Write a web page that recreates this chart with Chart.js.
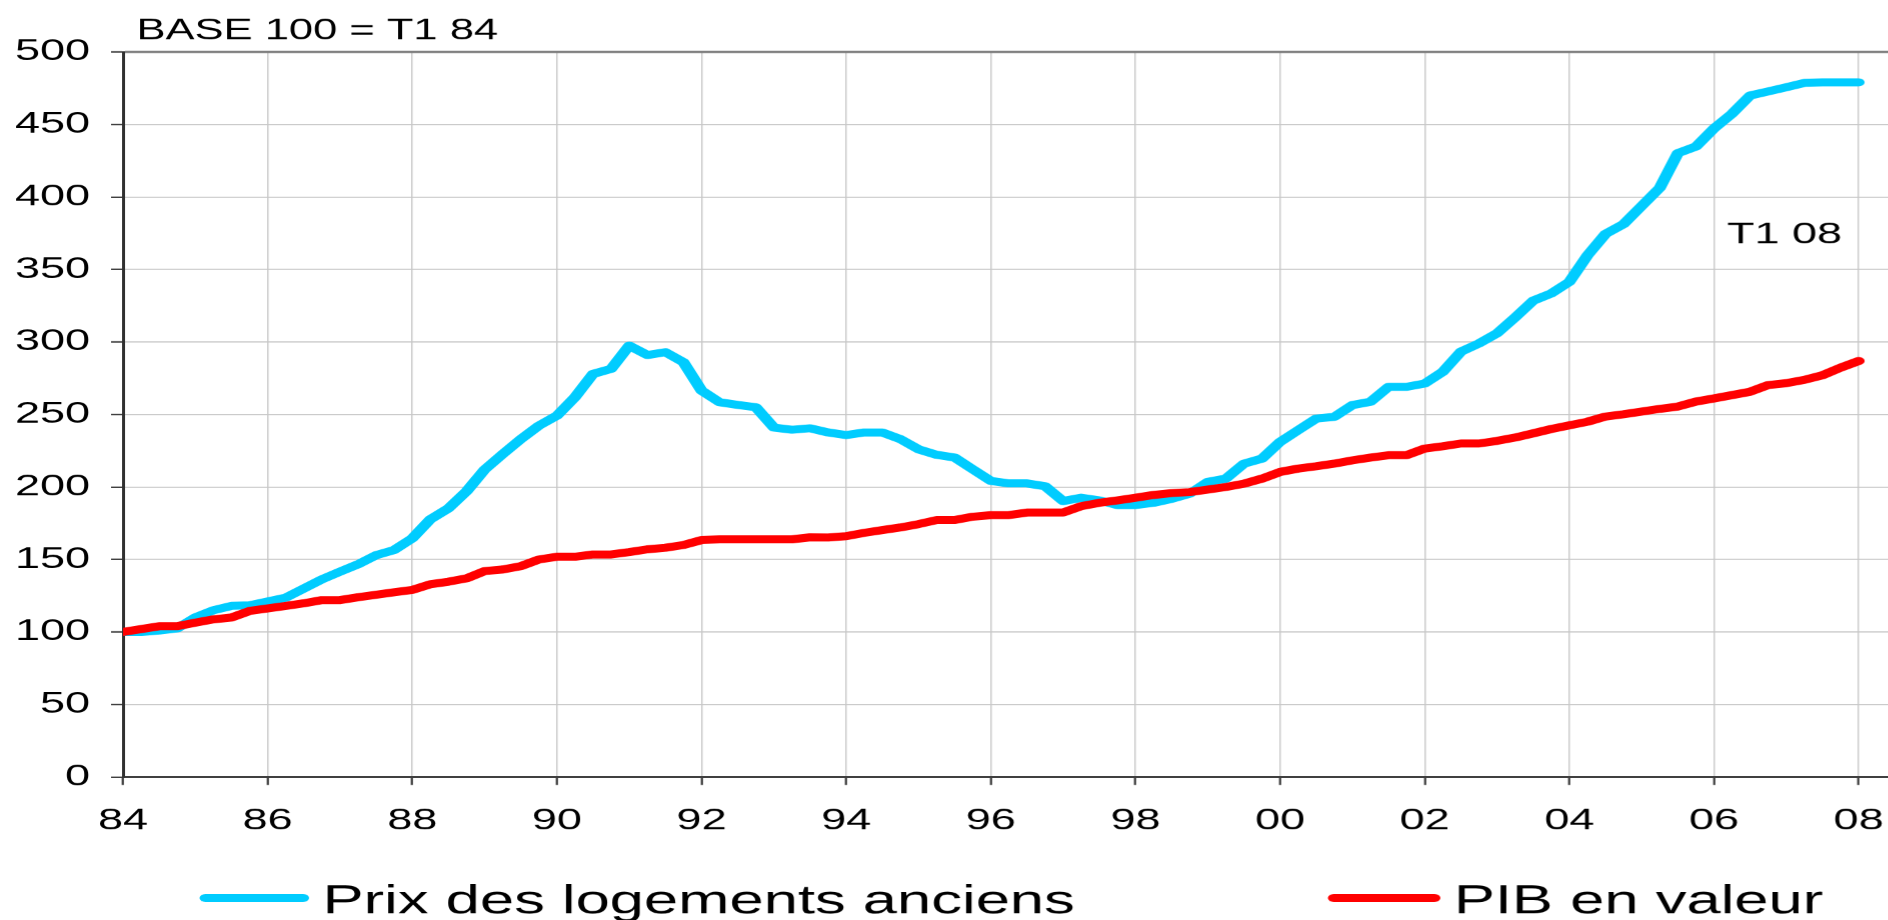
<!DOCTYPE html>
<html lang="fr">
<head>
<meta charset="utf-8">
<title>Prix des logements anciens et PIB en valeur</title>
<script src="https://cdn.jsdelivr.net/npm/chart.js@4.4.1/dist/chart.umd.min.js"></script>
<style>
    html, body { margin: 0; padding: 0; background: #fff; overflow: hidden; }
    /* le graphique d'origine est etire horizontalement (x1.5) */
    #cadre { width: 1259px; height: 920px; transform: scaleX(1.5); transform-origin: 0 0; }
</style>
</head>
<body>
<div id="cadre"><canvas id="graphique" width="1259" height="920"></canvas></div>
<script>
/* -----------------------------
   DONNEES
----------------------------- */
const titre = "BASE 100 = T1 84";
const noteFin = "T1 08";
const noteValeur = 368;

// trimestres T1 84 ... T1 08 (annee decimale)
const anneeDebut = 1984;
const anneeFin = 2008;
const trimestres = [];
for (let a = anneeDebut; a < anneeFin; a++) {
    for (let t = 0; t < 4; t++) trimestres.push(a + t / 4);
}
trimestres.push(anneeFin);

const graduationsX = [1984, 1986, 1988, 1990, 1992, 1994, 1996, 1998, 2000, 2002, 2004, 2006, 2008];
const etiquettesX = ["84", "86", "88", "90", "92", "94", "96", "98", "00", "02", "04", "06", "08"];

const yMin = 0;
const yMax = 500;
const yPas = 50;

const prixLogements = [
    100, 100, 101, 102.5,        110, 115, 118, 118.4,
    121, 123.7, 130, 136.3,      141.6, 146.7, 153, 156.6,
    164.6, 177.7, 185.3, 197,    212, 222.7, 233, 242.3,
    249.2, 262, 278, 281.5,      297.5, 291, 293, 286,
    266.5, 258.4, 256.6, 255,    241, 239.5, 240.5, 237.6,
    235.8, 237.6, 237.6, 233,    226, 222.2, 220.3, 212.2,
    204.2, 202.5, 202.5, 200.5,  190.3, 192.6, 190.8, 187.5,
    187.5, 189.1, 191.8, 195.4,  203.5, 205.8, 216.1, 219.6,
    231.1, 239.2, 247.2, 248.4,  256.5, 258.8, 269.1, 269.1,
    271.4, 279.5, 293.3, 299,    306, 317, 328.5, 333.5,
    341.5, 359.7, 374.5, 381.3,  393.8, 406.3, 430.2, 434.8,
    447.3, 457.5, 470, 472.8,    475.7, 478.7, 479.1, 479.1,
    479.1
];

const pibValeur = [
    100, 102, 104, 104,          106.4, 108.7, 110, 114.5,
    116.3, 118, 119.8, 122,      122, 124, 125.7, 127.4,
    129, 132.9, 134.7, 137,      142, 143.1, 145.4, 150,
    151.9, 151.9, 153.5, 153.5,  155.1, 157, 158.1, 160,
    163.4, 163.9, 163.9, 163.9,  163.9, 163.9, 165.3, 165.2,
    166.1, 168.4, 170.3, 172.1,  174.4, 177.2, 177.2, 179.5,
    180.6, 180.6, 182.4, 182.4,  182.4, 186.8, 189.1, 190.8,
    192.6, 194.5, 195.8, 196.5,  198.2, 200, 202.3, 205.8,
    210.4, 212.7, 214.3, 216.1,  218.4, 220.3, 221.9, 221.9,
    226.5, 228.1, 230, 230,      231.8, 234.1, 237, 240,
    242.5, 245, 248.6, 250.2,    252, 253.9, 255.5, 258.9,
    261.1, 263.4, 265.7, 270.3,  271.6, 273.9, 277.1, 282.3,
    286.9
];

/* -----------------------------
   STYLE
----------------------------- */
const police = '"Liberation Sans", Arial, sans-serif';
const bleu = "#00CCFF";
const rouge = "#FF0000";

/* -----------------------------
   TEXTES + LEGENDE
----------------------------- */
const pluginTextes = {
    id: "textes",
    afterDraw(chart) {
        const ctx = chart.ctx;
        const sx = chart.scales.x;
        const sy = chart.scales.y;
        ctx.save();
        ctx.fillStyle = "#000";
        ctx.textBaseline = "alphabetic";

        ctx.font = "29px " + police;
        ctx.textAlign = "left";
        ctx.fillText(titre, 91, 39);

        ctx.font = "30px " + police;
        ctx.textAlign = "right";
        ctx.fillText(noteFin, sx.getPixelForValue(anneeFin) - 11, sy.getPixelForValue(noteValeur));

        // legende en bas
        const legende = [{ x: 137, texte: 215 }, { x: 889, texte: 969 }];
        ctx.font = "41px " + police;
        ctx.textAlign = "left";
        ctx.lineCap = "round";
        ctx.lineWidth = 8;
        legende.forEach((pos, i) => {
            const ds = chart.data.datasets[i];
            ctx.strokeStyle = ds.borderColor;
            ctx.beginPath();
            ctx.moveTo(pos.x, 898);
            ctx.lineTo(pos.texte - 13, 898);
            ctx.stroke();
            ctx.fillText(ds.label, pos.texte, 913);
        });
        ctx.restore();
    }
};

/* -----------------------------
   GRAPHIQUE
----------------------------- */
new Chart(document.getElementById("graphique"), {
    type: "line",
    data: {
        labels: trimestres,
        datasets: [
            {
                label: "Prix des logements anciens",
                data: prixLogements,
                borderColor: bleu,
                backgroundColor: bleu,
                borderWidth: 8,
                borderCapStyle: "round",
                borderJoinStyle: "round",
                pointRadius: 0,
                tension: 0,
                order: 1
            },
            {
                label: "PIB en valeur",
                data: pibValeur,
                borderColor: rouge,
                backgroundColor: rouge,
                borderWidth: 8,
                borderCapStyle: "round",
                borderJoinStyle: "round",
                pointRadius: 0,
                tension: 0,
                order: 0
            }
        ]
    },
    options: {
        responsive: false,
        animation: false,
        devicePixelRatio: 1.5,
        layout: { padding: { top: 52, left: 10, right: 0, bottom: 81 } },
        plugins: {
            legend: { display: false },
            title: { display: false },
            tooltip: { enabled: false }
        },
        scales: {
            x: {
                type: "linear",
                min: anneeDebut,
                max: anneeFin + 0.42,
                afterBuildTicks: (scale) => {
                    scale.ticks = graduationsX.map(v => ({ value: v }));
                },
                afterFit: (scale) => {
                    scale.height = 62;
                    scale.paddingLeft = 0;
                    scale.paddingRight = 0;
                },
                ticks: {
                    color: "#000",
                    font: { family: police, size: 30 },
                    padding: 18,
                    maxRotation: 0,
                    callback: (v, i) => etiquettesX[i]
                },
                grid: {
                    color: "#cccccc",
                    lineWidth: 1,
                    tickColor: "#404040",
                    tickLength: 8,
                    tickWidth: 1.5
                },
                border: { color: "#404040", width: 2 }
            },
            y: {
                min: yMin,
                max: yMax,
                afterFit: (scale) => {
                    scale.width = 72;
                },
                ticks: {
                    stepSize: yPas,
                    color: "#000",
                    font: { family: police, size: 30 },
                    padding: 14
                },
                grid: {
                    color: (c) => c.tick && c.tick.value === yMax ? "#808080" : "#c8c8c8",
                    lineWidth: (c) => c.tick && c.tick.value === yMax ? 2.5 : 1.2,
                    tickColor: "#404040",
                    tickLength: 8,
                    tickWidth: 1.5
                },
                border: { color: "#303030", width: 2 }
            }
        }
    },
    plugins: [pluginTextes]
});
</script>
</body>
</html>
